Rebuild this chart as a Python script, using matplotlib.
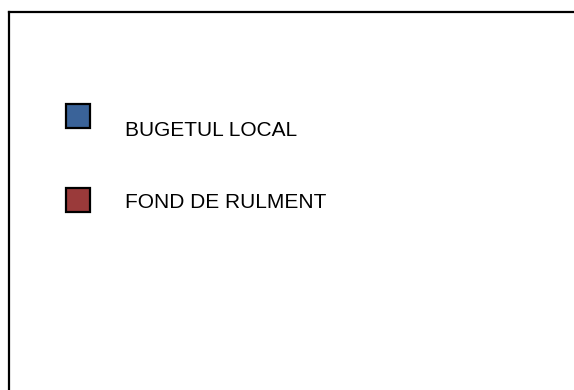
import matplotlib
matplotlib.use('Agg')
import matplotlib.pyplot as plt
from matplotlib.patches import Rectangle

# legend entries (the chart itself is empty, only the legend is drawn)
labels = ['BUGETUL LOCAL', 'FOND DE RULMENT']
colors = ['#3A6399', '#9A3A3A']

W, H = 574, 390
fig = plt.figure(figsize=(W / 100, H / 100), dpi=100)

# frame: starts at left/top, runs off the right and bottom edge
ax = fig.add_axes([9 / W, -0.05, 1.0, 1.05 - 12 / H])
ax.set_xticks([])
ax.set_yticks([])
for s in ax.spines.values():
    s.set_linewidth(1.6)
    s.set_color('black')

# layout of the legend rows, in pixels from the top
box_y = [115.5, 200.5]
text_y = [136.5, 207.5]
box_x, box_size, text_x = 66, 24, 125

for lab, col, by, ty in zip(labels, colors, box_y, text_y):
    r = Rectangle((box_x / W, 1 - (by + box_size / 2) / H), box_size / W, box_size / H,
                  transform=fig.transFigure, facecolor=col, edgecolor='black', linewidth=1.6)
    fig.patches.append(r)
    fig.text(text_x / W, 1 - ty / H, lab, fontsize=15, family='Liberation Sans',
             va='baseline', ha='left', color='black')

fig.savefig('out.png', dpi=100)
